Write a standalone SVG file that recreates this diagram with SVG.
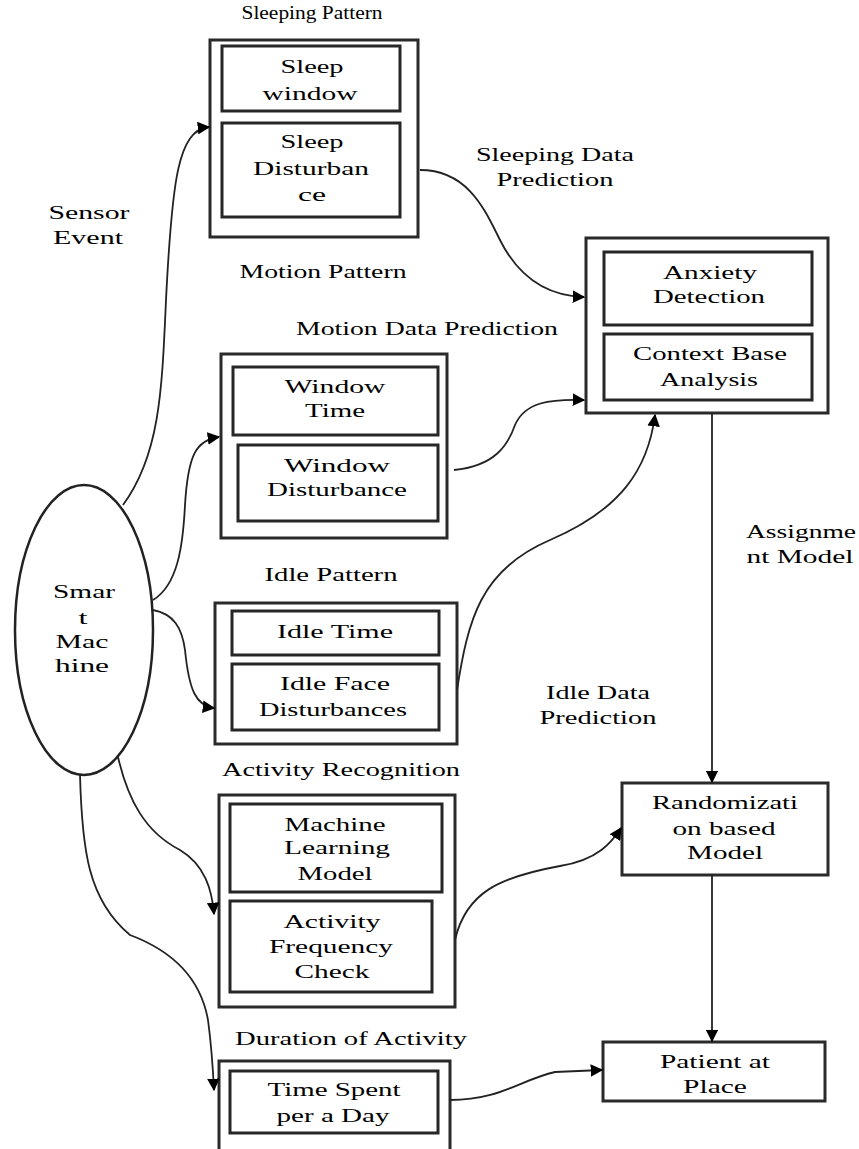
<svg xmlns="http://www.w3.org/2000/svg" width="859" height="1149" viewBox="0 0 859 1149">
<defs>
<marker id="ah" viewBox="0 0 10 10" refX="9" refY="5" markerWidth="7" markerHeight="7" orient="auto-start-reverse"><path d="M0,0 L10,5 L0,10 z" fill="#000"/></marker>
<style>
text{font-family:"Liberation Serif","Times New Roman",serif;font-size:19px;fill:#000;text-anchor:middle}
.outer{fill:#fff;stroke:#2a2a2a;stroke-width:3}
.inner{fill:#fff;stroke:#262626;stroke-width:3}
.c{fill:none;stroke:#222;stroke-width:1.8;marker-end:url(#ah)}
</style>
</defs>
<rect width="859" height="1149" fill="#fff"/>

<g id="labels">
<text x="312" y="19" textLength="141" lengthAdjust="spacingAndGlyphs">Sleeping Pattern</text>
<text x="323" y="278" textLength="167" lengthAdjust="spacingAndGlyphs">Motion Pattern</text>
<text x="427" y="335" textLength="262" lengthAdjust="spacingAndGlyphs">Motion Data Prediction</text>
<text x="331" y="581" textLength="133" lengthAdjust="spacingAndGlyphs">Idle Pattern</text>
<text x="341" y="776" textLength="238" lengthAdjust="spacingAndGlyphs">Activity Recognition</text>
<text x="351" y="1045" textLength="232" lengthAdjust="spacingAndGlyphs">Duration of Activity</text>
<text x="89" y="219" textLength="81" lengthAdjust="spacingAndGlyphs">Sensor</text>
<text x="88" y="244" textLength="70" lengthAdjust="spacingAndGlyphs">Event</text>
<text x="555" y="161" textLength="158" lengthAdjust="spacingAndGlyphs">Sleeping Data</text>
<text x="555" y="186" textLength="117" lengthAdjust="spacingAndGlyphs">Prediction</text>
<text x="801" y="538" textLength="110" lengthAdjust="spacingAndGlyphs">Assignme</text>
<text x="800" y="563" textLength="107" lengthAdjust="spacingAndGlyphs">nt Model</text>
<text x="598" y="699" textLength="104" lengthAdjust="spacingAndGlyphs">Idle Data</text>
<text x="598" y="724" textLength="117" lengthAdjust="spacingAndGlyphs">Prediction</text>
</g>

<g id="smart-machine">
<ellipse cx="84" cy="630" rx="69" ry="145" fill="#fff" stroke="#222" stroke-width="2.5"/>
<text x="84" y="598" textLength="62" lengthAdjust="spacingAndGlyphs">Smar</text>
<text x="83" y="624" textLength="9" lengthAdjust="spacingAndGlyphs">t</text>
<text x="82" y="648" textLength="53" lengthAdjust="spacingAndGlyphs">Mac</text>
<text x="82" y="672" textLength="54" lengthAdjust="spacingAndGlyphs">hine</text>
</g>

<g id="sleeping-pattern">
<rect class="outer" x="210" y="40" width="208" height="197"/>
<rect class="inner" x="222" y="46" width="178" height="65"/>
<text x="312" y="73" textLength="63" lengthAdjust="spacingAndGlyphs">Sleep</text>
<text x="310" y="100" textLength="95" lengthAdjust="spacingAndGlyphs">window</text>
<rect class="inner" x="222" y="123" width="178" height="94"/>
<text x="312" y="148" textLength="63" lengthAdjust="spacingAndGlyphs">Sleep</text>
<text x="311" y="175" textLength="116" lengthAdjust="spacingAndGlyphs">Disturban</text>
<text x="312" y="201" textLength="28" lengthAdjust="spacingAndGlyphs">ce</text>
</g>

<g id="motion-pattern">
<rect class="outer" x="221" y="354" width="226" height="184"/>
<rect class="inner" x="233" y="367" width="205" height="68"/>
<text x="335" y="393" textLength="101" lengthAdjust="spacingAndGlyphs">Window</text>
<text x="335" y="417" textLength="60" lengthAdjust="spacingAndGlyphs">Time</text>
<rect class="inner" x="238" y="445" width="200" height="76"/>
<text x="337" y="472" textLength="106" lengthAdjust="spacingAndGlyphs">Window</text>
<text x="337" y="496" textLength="140" lengthAdjust="spacingAndGlyphs">Disturbance</text>
</g>

<g id="idle-pattern">
<rect class="outer" x="215" y="603" width="242" height="141"/>
<rect class="inner" x="232" y="611" width="207" height="44"/>
<text x="335" y="638" textLength="116" lengthAdjust="spacingAndGlyphs">Idle Time</text>
<rect class="inner" x="232" y="664" width="207" height="66"/>
<text x="335" y="690" textLength="110" lengthAdjust="spacingAndGlyphs">Idle Face</text>
<text x="333" y="716" textLength="148" lengthAdjust="spacingAndGlyphs">Disturbances</text>
</g>

<g id="activity-recognition">
<rect class="outer" x="219" y="795" width="236" height="212"/>
<rect class="inner" x="230" y="804" width="212" height="88"/>
<text x="335" y="831" textLength="101" lengthAdjust="spacingAndGlyphs">Machine</text>
<text x="337" y="854" textLength="106" lengthAdjust="spacingAndGlyphs">Learning</text>
<text x="335" y="880" textLength="75" lengthAdjust="spacingAndGlyphs">Model</text>
<rect class="inner" x="230" y="901" width="202" height="91"/>
<text x="332" y="928" textLength="97" lengthAdjust="spacingAndGlyphs">Activity</text>
<text x="331" y="953" textLength="124" lengthAdjust="spacingAndGlyphs">Frequency</text>
<text x="332" y="978" textLength="75" lengthAdjust="spacingAndGlyphs">Check</text>
</g>

<g id="duration-of-activity">
<rect class="outer" x="219" y="1061" width="231" height="100"/>
<rect class="inner" x="230" y="1071" width="208" height="62"/>
<text x="334" y="1096" textLength="133" lengthAdjust="spacingAndGlyphs">Time Spent</text>
<text x="333" y="1122" textLength="113" lengthAdjust="spacingAndGlyphs">per a Day</text>
</g>

<g id="anxiety">
<rect class="outer" x="586" y="238" width="242" height="175"/>
<rect class="inner" x="604" y="252" width="208" height="73"/>
<text x="710" y="279" textLength="94" lengthAdjust="spacingAndGlyphs">Anxiety</text>
<text x="709" y="303" textLength="112" lengthAdjust="spacingAndGlyphs">Detection</text>
<rect class="inner" x="604" y="334" width="208" height="66"/>
<text x="710" y="360" textLength="154" lengthAdjust="spacingAndGlyphs">Context Base</text>
<text x="709" y="386" textLength="98" lengthAdjust="spacingAndGlyphs">Analysis</text>
</g>

<g id="randomization">
<rect class="outer" x="622" y="783" width="206" height="92"/>
<text x="725" y="809" textLength="146" lengthAdjust="spacingAndGlyphs">Randomizati</text>
<text x="724" y="835" textLength="103" lengthAdjust="spacingAndGlyphs">on based</text>
<text x="725" y="859" textLength="76" lengthAdjust="spacingAndGlyphs">Model</text>
</g>

<g id="patient">
<rect class="outer" x="603" y="1042" width="222" height="59"/>
<text x="715" y="1068" textLength="110" lengthAdjust="spacingAndGlyphs">Patient at</text>
<text x="715" y="1093" textLength="64" lengthAdjust="spacingAndGlyphs">Place</text>
</g>

<g id="connectors">
<path class="c" d="M123,505 C160,455 162,390 166,300 C172,180 178,130 209,127"/>
<path class="c" d="M153,600 C178,585 183,545 185,505 C188,455 196,440 219,437"/>
<path class="c" d="M153,610 C174,614 182,628 185,650 C189,690 196,706 214,708"/>
<path class="c" d="M118,757 C128,800 145,832 180,850 C205,865 212,890 214,914"/>
<path class="c" d="M80,775 C82,850 88,900 130,935 C170,950 200,975 208,1020 C212,1050 213,1070 214,1090"/>
<path class="c" d="M420,170 C468,170 485,210 500,240 C520,280 550,296 584,297"/>
<path class="c" d="M454,470 C495,466 508,445 515,425 C525,402 550,399 584,400"/>
<path class="c" d="M457,690 C468,620 480,570 550,540 C620,510 648,470 655,415"/>
<path class="c" d="M455,940 C466,892 500,877 560,866 C598,860 612,842 621,828"/>
<path class="c" d="M450,1100 C500,1100 520,1080 555,1072 L602,1070"/>
<path class="c" d="M712,413 L712,782"/>
<path class="c" d="M712,875 L712,1041"/>
</g>
</svg>
